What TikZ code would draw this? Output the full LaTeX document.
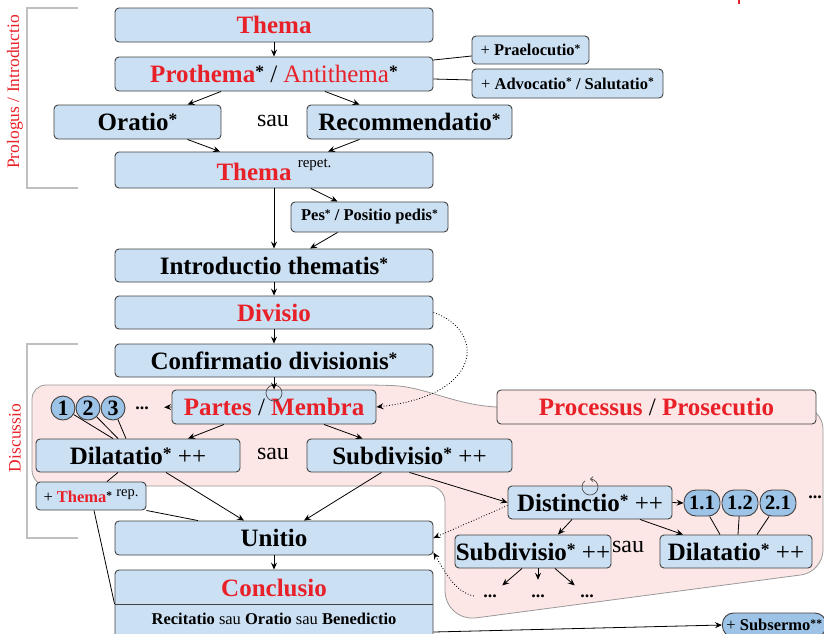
\documentclass[tikz,border=0pt]{standalone}
\usepackage{fontspec}
\setmainfont{Liberation Serif}
\usetikzlibrary{arrows.meta}
\definecolor{rubric}{RGB}{232,32,40}
\definecolor{boxblue}{RGB}{204,224,244}
\definecolor{numblue}{RGB}{157,195,230}
\definecolor{regionpink}{RGB}{253,230,230}
\definecolor{bracketgray}{RGB}{192,192,192}
\newcommand{\rub}[1]{\textcolor{rubric}{#1}}
\newcommand{\stl}{\raisebox{0.2em}{\scalebox{0.7}{*}}}
\tikzset{
	box/.style={draw=black!75, fill=boxblue, rounded corners=4pt, line width=0.9pt, inner sep=0pt},
	col/.style={box, minimum width=318pt, minimum height=34pt},
	bigtext/.style={font=\bfseries\fontsize{25}{30}\selectfont},
	smalltext/.style={font=\bfseries\fontsize{16.5}{19}\selectfont},
	sautext/.style={font=\fontsize{24}{28}\selectfont},
	numcirc/.style={circle, draw=black!75, fill=numblue, line width=0.9pt, minimum size=24pt, inner sep=0pt, font=\bfseries\fontsize{22}{24}\selectfont},
	numpill/.style={draw=black!75, fill=numblue, rounded corners=12pt, line width=0.9pt, minimum width=36pt, minimum height=26pt, inner sep=0pt, font=\bfseries\fontsize{20.5}{22}\selectfont},
	dotsnode/.style={circle, minimum size=32pt, inner sep=0pt, font=\bfseries\fontsize{18}{20}\selectfont},
	arr/.style={-{Stealth[length=7pt,width=6pt,inset=2.5pt]}, line width=0.8pt},
	link/.style={line width=0.8pt},
	dotarr/.style={arr, dotted, line width=0.9pt},
	loopc/.style={draw=black!70, line width=0.7pt},
	region/.style={fill=regionpink, draw=black!40, line width=0.8pt},
	bracket/.style={draw=bracketgray, line width=2.2pt},
	sidelabel/.style={rotate=90, text=rubric, font=\fontsize{17.5}{20}\selectfont}
}

\begin{document}
\begin{tikzpicture}[x=1pt, y=-1pt]
		%%%%% START %%%%%
		\useasboundingbox (0,0) rectangle (824,633);
		
		\draw[rubric, line width=1.5pt] (739,0) -- (739,4);
		
		\draw[bracket] (78,8) -- (27,8) -- (27,188) -- (78,188);
		\node[sidelabel] (prologus) at (15,92) {Prologus / Introductio};
		\draw[bracket] (78,344) -- (27,344) -- (27,538) -- (78,538);
		\node[sidelabel] (discussio) at (15,438) {Discussio};
		
		\path[region] (32,440) [rounded corners=14pt] -- (32,385) -- (380,385)
			[sharp corners] .. controls (425,387) and (455,405) .. (497,407)
			[rounded corners=22pt] -- (823,407) -- (823,572)
			[rounded corners=32pt] -- (445,622)
			[rounded corners=16pt] -- (445,486) -- (32,486) -- cycle;
		
		\node[col, bigtext] (thema) at (274,25) {\rub{Thema}};
		\node[col, bigtext] (prothema) at (274,74) {\rub{Prothema}\stl{} {\mdseries / \rub{Antithema}}\stl};
		\node[box, bigtext, minimum width=167pt, minimum height=34pt] (oratio) at (137.5,122) {Oratio\stl};
		\node[sautext] (sau1) at (273,121) {sau};
		\node[box, bigtext, minimum width=205pt, minimum height=34pt] (recom) at (409.5,122) {Recommendatio\stl};
		\node[col, bigtext, minimum height=36pt] (themarep) at (274,170) {\rub{Thema} \raisebox{13pt}{\mdseries\fontsize{15}{18}\selectfont repet.}};
		
		\node[box, smalltext, minimum width=117pt, minimum height=28pt] (prae) at (530.5,50) {{\mdseries +} Praelocutio\stl};
		\node[box, smalltext, minimum width=191pt, minimum height=29pt] (advo) at (567.5,83.5) {{\mdseries +} Advocatio\stl{} / Salutatio\stl};
		\node[box, smalltext, minimum width=157pt, minimum height=30pt] (pes) at (369.5,217) {Pes\stl{} / Positio pedis\stl};
		
		\node[col, bigtext, minimum height=33pt] (intro) at (274,265.5) {Introductio thematis\stl};
		\node[col, bigtext, minimum height=33pt] (divisio) at (274,312.5) {\rub{Divisio}};
		\node[col, bigtext, minimum height=33pt] (confirm) at (274,360.5) {Confirmatio divisionis\stl};
		
		\node[box, bigtext, minimum width=204pt, minimum height=34pt] (partes) at (274,407) {\rub{Partes} {\mdseries /} \rub{Membra}};
		\coordinate (loopP) at (274,393);
		\node[numcirc] (c1) at (63,408) {1};
		\node[numcirc] (c2) at (88,408) {2};
		\node[numcirc] (c3) at (113,408) {3};
		\node[dotsnode] (dotsP) at (142,408) {...};
		\node[box, bigtext, fill=regionpink, minimum width=319pt, minimum height=34pt] (processus) at (656.5,407) {\rub{Processus} {\mdseries /} \rub{Prosecutio}};
		
		\node[box, bigtext, minimum width=204pt, minimum height=33pt] (dil1) at (138,455.5) {Dilatatio\stl{} {\mdseries ++}};
		\node[sautext] (sau2) at (273,454) {sau};
		\node[box, bigtext, minimum width=205pt, minimum height=33pt] (sub1) at (409.5,455.5) {Subdivisio\stl{} {\mdseries ++}};
		\node[box, smalltext, minimum width=110pt, minimum height=28pt] (threp) at (91,496) {{\mdseries +} \rub{Thema}\stl{} \raisebox{6pt}{\mdseries\fontsize{14.5}{16}\selectfont rep.}};
		
		\node[col, bigtext] (unitio) at (274,538) {Unitio};
		\node[box, minimum width=318pt, minimum height=76pt] (conclusio) at (274,608) {};
		\node[bigtext] (conclhead) at (274,587.5) {\rub{Conclusio}};
		\node[font=\bfseries\fontsize{16.5}{18}\selectfont] (conclfoot) at (274,619) {Recitatio {\mdseries sau} Oratio {\mdseries sau} Benedictio};
		\coordinate (csep) at (274,604);
		\draw[draw=black!75, line width=0.9pt] (conclusio.west |- csep) -- (conclusio.east |- csep);
		
		\node[box, bigtext, minimum width=164pt, minimum height=33pt] (distinctio) at (590,502.5) {Distinctio\stl{} {\mdseries ++}};
		\coordinate (loopD) at (590,487);
		\node[numpill] (p11) at (702,503) {1.1};
		\node[numpill] (p12) at (740,503) {1.2};
		\node[numpill] (p21) at (778,503) {2.1};
		\node[dotsnode] (dotsD) at (815,497) {...};
		\node[box, bigtext, minimum width=156pt, minimum height=33pt] (sub2) at (533,551.5) {Subdivisio\stl{} {\mdseries ++}};
		\node[sautext] (sau3) at (628,547) {sau};
		\node[box, bigtext, minimum width=152pt, minimum height=33pt] (dil2) at (736,551.5) {Dilatatio\stl{} {\mdseries ++}};
		\node[dotsnode] (d1) at (490,596) {...};
		\node[dotsnode] (d2) at (538,596) {...};
		\node[dotsnode] (d3) at (587,596) {...};
		
		\node[box, smalltext, fill=numblue, rounded corners=11pt, anchor=west, inner xsep=4pt, minimum height=24pt] (subsermo) at (722,625) {{\mdseries +} Subsermo\stl\stl};
		
		% prologus
		\draw[arr] (thema) -- (prothema);
		\draw[arr] ([xshift=-53pt]prothema.south) -- ([xshift=50pt]oratio.north);
		\draw[arr] ([xshift=51pt]prothema.south) -- ([xshift=-50pt]recom.north);
		\draw[arr] ([xshift=50pt]oratio.south) -- ([xshift=-54pt]themarep.north);
		\draw[arr] ([xshift=-50pt]recom.south) -- ([xshift=54pt]themarep.north);
		\draw[link] ([yshift=14pt]prothema.east) -- ([yshift=-6pt]prae.west);
		\draw[link] ([yshift=-5pt]prothema.east) -- ([yshift=3.5pt]advo.west);
		\draw[arr] (themarep) -- (intro);
		\draw[arr] ([xshift=37pt]themarep.south) -- ([xshift=-32pt]pes.north);
		\draw[arr] ([xshift=-32pt]pes.south) -- ([xshift=36pt]intro.north);
		\draw[arr] (intro) -- (divisio);
		\draw[arr] (divisio) -- (confirm);
		
		% discussio
		\draw[loopc] (loopP) circle (8);
		\draw[arr] (confirm) -- (partes);
		\draw[dotarr] (divisio.east) .. controls (485,330) and (485,395) .. (partes.east);
		\draw[arr, shorten >=6pt] (partes.west) -- (dotsP);
		\draw[arr] ([xshift=-50pt]partes.south) -- ([xshift=50pt]dil1.north);
		\draw[arr] ([xshift=50pt]partes.south) -- ([xshift=-47pt]sub1.north);
		\draw[link] (c1) -- ([xshift=-25pt]dil1.north);
		\draw[link] (c2) -- ([xshift=-20pt]dil1.north);
		\draw[link] (c3) -- ([xshift=-12pt]dil1.north);
		\draw[link] ([xshift=-20pt]dil1.south) -- ([xshift=16pt]threp.north);
		\draw[arr] ([xshift=28pt]dil1.south) -- ([xshift=-30pt]unitio.north);
		\draw[arr] ([xshift=-28pt]sub1.south) -- ([xshift=30pt]unitio.north);
		\draw[link] (threp.south east) -- ([xshift=-76pt]unitio.north);
		\draw[link] ([xshift=3pt]threp.south) -- (conclusio.west |- csep);
		\draw[arr] (sub1.south) -- (distinctio.west);
		\draw[dotarr] ([yshift=-3pt]distinctio.west) -- (unitio.east);
		\draw[dotarr] (d1.west) .. controls (455,592) and (445,572) .. ([yshift=3pt]unitio.south east);
		\draw[arr] (unitio) -- (conclusio);
		
		% processus
		\draw[loopc, -{Straight Barb[length=2.5pt]}] (loopD) ++(130:8pt) arc[start angle=130, end angle=450, radius=8pt];
		\draw[arr] (distinctio.east) -- (p11.west);
		\draw[arr] ([xshift=-18pt]distinctio.south) -- ([xshift=25pt]sub2.north);
		\draw[arr] ([xshift=50pt]distinctio.south) -- ([xshift=-53pt]dil2.north);
		\draw[link] (p11) -- ([xshift=-16pt]dil2.north);
		\draw[link] (p12) -- ([xshift=2pt]dil2.north);
		\draw[link] (p21) -- ([xshift=21pt]dil2.north);
		\draw[arr] ([xshift=-11pt]sub2.south) -- (d1);
		\draw[arr] ([xshift=5pt]sub2.south) -- (d2);
		\draw[arr] ([xshift=22pt]sub2.south) -- (d3);
		\draw[arr] ([yshift=-24pt]conclusio.east) -- (subsermo.west);
		
		%%%%% END %%%%%
	\end{tikzpicture}
\end{document}
